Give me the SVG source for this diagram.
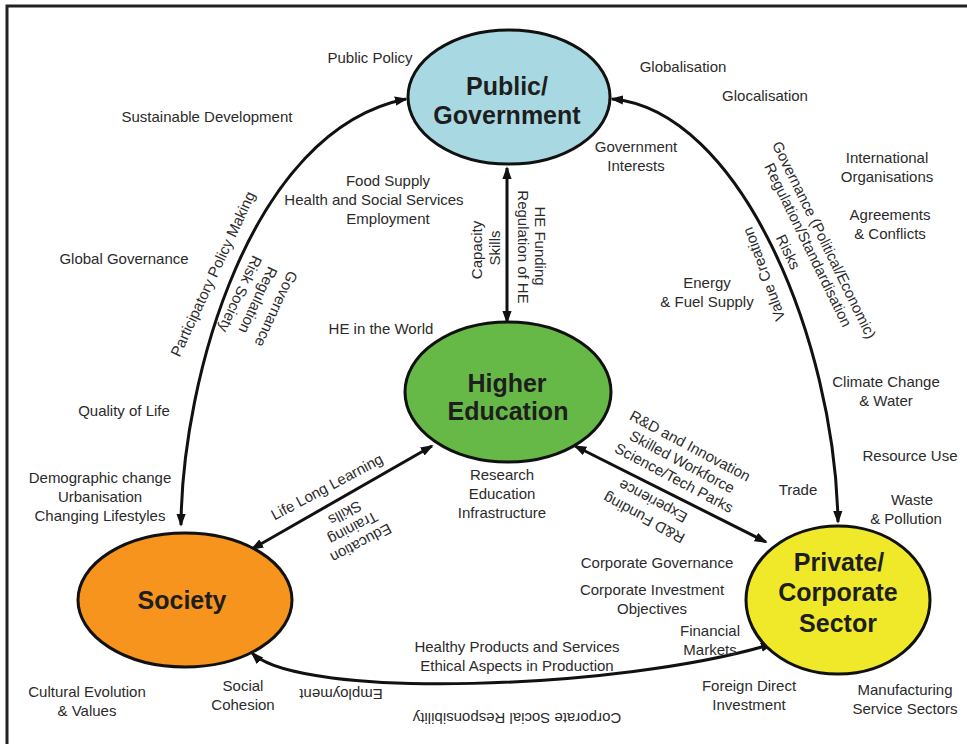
<svg xmlns="http://www.w3.org/2000/svg" width="967" height="744" viewBox="0 0 967 744">
  <defs>
    <marker id="arrow" viewBox="0 0 14 10" refX="12" refY="5" markerWidth="13" markerHeight="9.5" markerUnits="userSpaceOnUse" orient="auto-start-reverse">
      <path d="M0,0 L14,5 L0,10 z" fill="#111"/>
    </marker>
    <style>
      .t { font-family: "Liberation Sans", Arial, sans-serif; font-size: 15px; fill: #2b2b2b; text-anchor: middle; }
      .h { font-family: "Liberation Sans", Arial, sans-serif; font-size: 25px; font-weight: bold; fill: #1e1e1e; text-anchor: middle; }
      .node { stroke: #111; stroke-width: 3; }
      .link { fill: none; stroke: #111; stroke-width: 3; marker-start: url(#arrow); marker-end: url(#arrow); }
    </style>
  </defs>

  <rect width="967" height="744" fill="#fff"/>
  <!-- frame (top and left edges) -->
  <path d="M7,744 L7,6 L967,6" fill="none" stroke="#222" stroke-width="3"/>

  <!-- connectors -->
  <g id="connectors">
    <path class="link" d="M507,168 L507,322"/>
    <path class="link" d="M181,525 C182,380 250,130 406,99"/>
    <path class="link" d="M612,99 C740,110 835,340 838,522"/>
    <path class="link" d="M432,446 L252,549"/>
    <path class="link" d="M575,446 L766,542"/>
    <path class="link" d="M252,653 C300,700 620,690 772,644"/>
  </g>

  <!-- nodes -->
  <g id="government">
    <ellipse class="node" cx="509" cy="97" rx="101" ry="67" fill="#a8d9e2"/>
    <text class="h" x="507" y="95">Public/</text>
    <text class="h" x="507" y="124">Government</text>
  </g>
  <g id="higher-education">
    <ellipse class="node" cx="508" cy="392" rx="103" ry="70" fill="#67b947"/>
    <text class="h" x="507" y="392">Higher</text>
    <text class="h" x="508" y="420">Education</text>
  </g>
  <g id="society">
    <ellipse class="node" cx="185" cy="600" rx="107" ry="67" fill="#f7941e"/>
    <text class="h" x="182" y="609">Society</text>
  </g>
  <g id="private-sector">
    <ellipse class="node" cx="838" cy="600" rx="92" ry="74" fill="#efe92a"/>
    <text class="h" x="839" y="571">Private/</text>
    <text class="h" x="838" y="601">Corporate</text>
    <text class="h" x="838" y="632">Sector</text>
  </g>

  <!-- labels -->
  <g id="labels">
    <text class="t" x="370" y="63">Public Policy</text>
    <text class="t" x="207" y="122">Sustainable Development</text>
    <text class="t" x="683" y="72">Globalisation</text>
    <text class="t" x="765" y="101">Glocalisation</text>
    <text class="t" x="636" y="152">Government</text>
    <text class="t" x="636" y="171">Interests</text>
    <text class="t" x="887" y="163">International</text>
    <text class="t" x="887" y="182">Organisations</text>
    <text class="t" x="890" y="220">Agreements</text>
    <text class="t" x="890" y="239">&amp; Conflicts</text>
    <text class="t" x="388" y="186">Food Supply</text>
    <text class="t" x="374" y="205">Health and Social Services</text>
    <text class="t" x="388" y="224">Employment</text>
    <text class="t" x="124" y="264">Global Governance</text>
    <text class="t" x="381" y="334">HE in the World</text>
    <text class="t" x="707" y="288">Energy</text>
    <text class="t" x="707" y="307">&amp; Fuel Supply</text>
    <text class="t" x="124" y="416">Quality of Life</text>
    <text class="t" x="100" y="483">Demographic change</text>
    <text class="t" x="100" y="502">Urbanisation</text>
    <text class="t" x="100" y="521">Changing Lifestyles</text>
    <text class="t" x="886" y="387">Climate Change</text>
    <text class="t" x="886" y="406">&amp; Water</text>
    <text class="t" x="910" y="461">Resource Use</text>
    <text class="t" x="912" y="505">Waste</text>
    <text class="t" x="906" y="524">&amp; Pollution</text>
    <text class="t" x="798" y="495">Trade</text>
    <text class="t" x="502" y="480">Research</text>
    <text class="t" x="502" y="499">Education</text>
    <text class="t" x="502" y="518">Infrastructure</text>
    <text class="t" x="657" y="568">Corporate Governance</text>
    <text class="t" x="652" y="595">Corporate Investment</text>
    <text class="t" x="652" y="614">Objectives</text>
    <text class="t" x="710" y="636">Financial</text>
    <text class="t" x="710" y="655">Markets</text>
    <text class="t" x="517" y="652">Healthy Products and Services</text>
    <text class="t" x="517" y="671">Ethical Aspects in Production</text>
    <text class="t" x="87" y="697">Cultural Evolution</text>
    <text class="t" x="87" y="716">&amp; Values</text>
    <text class="t" x="243" y="691">Social</text>
    <text class="t" x="243" y="710">Cohesion</text>
    <text class="t" x="749" y="691">Foreign Direct</text>
    <text class="t" x="749" y="710">Investment</text>
    <text class="t" x="905" y="695">Manufacturing</text>
    <text class="t" x="905" y="714">Service Sectors</text>

    <!-- labels set along the connectors -->
    <text class="t" transform="translate(477,250) rotate(-90)" y="5">Capacity</text>
    <text class="t" transform="translate(495,248) rotate(-90)" y="5">Skills</text>
    <text class="t" transform="translate(540,246) rotate(90)" y="5">HE Funding</text>
    <text class="t" transform="translate(523,247) rotate(90)" y="5">Regulation of HE</text>
    <text class="t" transform="translate(213,274) rotate(-65)" y="5">Participatory Policy Making</text>
    <text class="t" transform="translate(276,309) rotate(115)" y="5">Governance</text>
    <text class="t" transform="translate(258,300) rotate(115)" y="5">Regulation</text>
    <text class="t" transform="translate(240,294) rotate(115)" y="5">Risk Society</text>
    <text class="t" transform="translate(764,274) rotate(-110)" y="5">Value Creation</text>
    <text class="t" transform="translate(824,240) rotate(64)" y="5">Governance (Political/Economic)</text>
    <text class="t" transform="translate(808,245) rotate(64)" y="5">Regulation/Standardisation</text>
    <text class="t" transform="translate(788,252) rotate(64)" y="5">Risks</text>
    <text class="t" transform="translate(327,487) rotate(-28)" y="5">Life Long Learning</text>
    <text class="t" transform="translate(361,543) rotate(152)" y="5">Education</text>
    <text class="t" transform="translate(353,528) rotate(152)" y="5">Training</text>
    <text class="t" transform="translate(345,513) rotate(152)" y="5">Skills</text>
    <text class="t" transform="translate(690,446) rotate(28)" y="5">R&amp;D and Innovation</text>
    <text class="t" transform="translate(682,462) rotate(28)" y="5">Skilled Workforce</text>
    <text class="t" transform="translate(674,478) rotate(28)" y="5">Science/Tech Parks</text>
    <text class="t" transform="translate(653,501) rotate(208)" y="5">Experience</text>
    <text class="t" transform="translate(644,518) rotate(208)" y="5">R&amp;D Funding</text>
    <text class="t" transform="translate(341,694) rotate(180)" y="5">Employment</text>
    <text class="t" transform="translate(517,718) rotate(180)" y="5">Corporate Social Responsibility</text>
  </g>
</svg>
